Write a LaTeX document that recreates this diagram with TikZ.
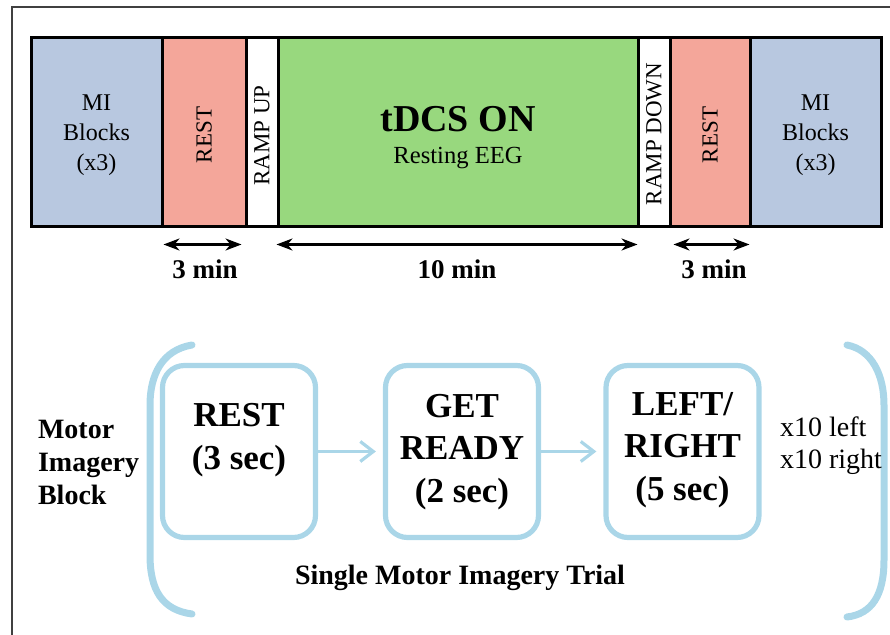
\documentclass[tikz,border=0pt]{standalone}
\usepackage{fontspec}
\setmainfont{Liberation Serif}
\usetikzlibrary{arrows.meta,fit}
\definecolor{miblue}{HTML}{B8C8E0}
\definecolor{restred}{HTML}{F4A69A}
\definecolor{tdcsgreen}{HTML}{98D87E}
\definecolor{trialblue}{HTML}{AAD6E8}

\begin{document}
\begin{tikzpicture}[x=0.5pt,y=-0.5pt,
  seg/.style={draw,line width=1.5pt,inner sep=0pt},
  vtxt/.style={rotate=90,font=\fontsize{11.5}{14}\selectfont},
  dim/.style={{Stealth[length=8pt,width=6pt,inset=2.5pt]}-{Stealth[length=8pt,width=6pt,inset=2.5pt]},line width=1.1pt},
  dimlbl/.style={font=\fontsize{13.5}{16}\selectfont\bfseries},
  trial/.style={draw=trialblue,line width=2.6pt,rounded corners=11pt,minimum width=76.5pt,minimum height=86pt},
  triallbl/.style={align=center,font=\fontsize{17.5}{21.25}\selectfont\bfseries},
  flow/.style={-{Straight Barb[length=6.5pt,width=10pt]},draw=trialblue,line width=1.6pt,shorten >=3.5pt},
  brk/.style={draw=trialblue,line width=3.5pt,line cap=round}]
  \useasboundingbox (0,0) rectangle (890,635);
  \draw[line width=0.8pt,black!75] (12,635) -- (12,7) -- (890,7);

  % session timeline
  \foreach \xa/\xb/\c/\n in {31/162/miblue/mia,162/246/restred/resta,246/278/white/rampup,
      278/638/tdcsgreen/tdcs,638/670/white/rampdn,670/750/restred/restb,750/881/miblue/mib}
    \node[seg,fill=\c,fit={(\xa,38) (\xb,227)}] (\n) {};
  \node[align=center,font=\fontsize{12}{15}\selectfont] (mialbl) at (96.5,135) {MI\\Blocks\\(x3)};
  \node[align=center,font=\fontsize{12}{15}\selectfont] (miblbl) at (815.5,135) {MI\\Blocks\\(x3)};
  \node[vtxt] (restalbl) at (204,135) {REST};
  \node[vtxt] (restblbl) at (710,135) {REST};
  \node[vtxt] (rampuplbl) at (262,135.5) {RAMP UP};
  \node[vtxt] (rampdnlbl) at (654,134) {RAMP DOWN};
  \node[font=\fontsize{19}{22}\selectfont\bfseries] (tdcslbl) at (458,119) {tDCS ON};
  \node[font=\fontsize{12.3}{15}\selectfont] (eeglbl) at (458,158) {Resting EEG};

  % durations
  \draw[dim] ([shift={(1.5pt,-8pt)}]resta.south west) -- ([shift={(-3pt,-8pt)}]resta.south east);
  \draw[dim] ([shift={(0pt,-8pt)}]tdcs.south west) -- ([shift={(-1pt,-8pt)}]tdcs.south east);
  \draw[dim] ([shift={(2.5pt,-8pt)}]restb.south west) -- ([shift={(-1pt,-8pt)}]restb.south east);
  \node[dimlbl] (durresta) at ([shift={(0.5pt,-20.5pt)}]resta.south) {3 min};
  \node[dimlbl] (durtdcs) at ([shift={(-0.5pt,-20.5pt)}]tdcs.south) {10 min};
  \node[dimlbl] (durrestb) at ([shift={(2pt,-20.5pt)}]restb.south) {3 min};

  % one motor imagery trial
  \node[trial] (rest) at (239,451.5) {};
  \node[trial] (ready) at (462,451.5) {};
  \node[trial] (move) at (682.5,451.5) {};
  \node[triallbl] (restlbl) at (239,440) {REST\\(3 sec)};
  \node[triallbl] (readylbl) at (462,452) {GET\\READY\\(2 sec)};
  \node[triallbl] (movelbl) at (682.5,450) {LEFT/\\RIGHT\\(5 sec)};
  \draw[flow] (rest) -- (ready);
  \draw[flow] (ready) -- (move);

  % block brackets
  \draw[brk] (192,345) .. controls (162,350) and (150,375) .. (150,405) -- (150,555)
    .. controls (150,590) and (162,610) .. (192,614);
  \draw[brk] (847,345) .. controls (872,350) and (884,375) .. (884,405) -- (884,560)
    .. controls (884,595) and (872,614) .. (847,617);

  \node[anchor=west,align=left,font=\fontsize{14}{16.5}\selectfont\bfseries] (blocklbl) at (31,462) {Motor\\Imagery\\Block};
  \node[anchor=west,align=left,font=\fontsize{14}{16}\selectfont] (replbl) at (773,446) {x10 left\\x10 right};
  \node[font=\fontsize{14}{16}\selectfont\bfseries] (triallbl) at (460,578) {Single Motor Imagery Trial};
\end{tikzpicture}
\end{document}
